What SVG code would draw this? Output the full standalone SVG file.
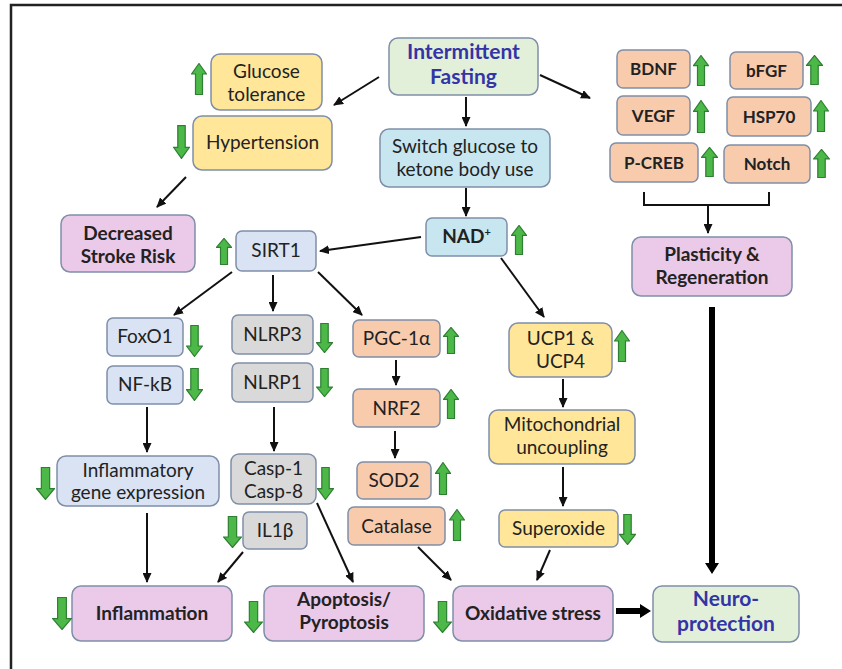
<svg xmlns="http://www.w3.org/2000/svg" xmlns:xlink="http://www.w3.org/1999/xlink" width="842" height="669" viewBox="0 0 842 669">
<style>
.box{stroke:#7F8FA8;stroke-width:1.5}
.yel{fill:#FFE699}.grn{fill:#E2F0D9}.cyan{fill:#C7E6F0}.peri{fill:#DAE3F3}
.gry{fill:#D9D9D9}.sal{fill:#F8CBAD}.pink{fill:#EBC9E9}
text{font-family:Lato,"Liberation Sans",sans-serif;font-size:19px;fill:#222;text-anchor:middle}
.b{font-weight:bold}
.blue{fill:#3434A6;font-size:21px}
.s{font-size:17px}
.c line{stroke:#111;stroke-width:2;marker-end:url(#ah)}
.ga{fill:#4CB848;stroke:#2F7F33;stroke-width:1.2}
</style>
<defs>
<marker id="ah" markerUnits="userSpaceOnUse" markerWidth="10" markerHeight="9" refX="9" refY="4.5" orient="auto">
<path d="M0,0 L10,4.5 L0,9 z" fill="#111"/>
</marker>
<symbol id="up" viewBox="0 0 16 32" preserveAspectRatio="none">
<path class="ga" vector-effect="non-scaling-stroke" d="M8,0.5 L15.5,11 L11.5,11 L11.5,31.5 L4.5,31.5 L4.5,11 L0.5,11 Z"/>
</symbol>
<symbol id="dn" viewBox="0 0 16 32" preserveAspectRatio="none">
<path class="ga" vector-effect="non-scaling-stroke" d="M8,31.5 L15.5,21 L11.5,21 L11.5,0.5 L4.5,0.5 L4.5,21 L0.5,21 Z"/>
</symbol>
</defs>
<rect width="842" height="669" fill="#fff"/>
<path d="M11,669 L11,5 L842,5" fill="none" stroke="#222" stroke-width="2.5"/>

<g id="connectors" class="c">
<line x1="379" y1="77" x2="334" y2="105"/>
<line x1="466" y1="97" x2="466" y2="126"/>
<line x1="540" y1="75" x2="590" y2="98"/>
<line x1="466" y1="188" x2="466" y2="216"/>
<line x1="186" y1="177" x2="157" y2="207"/>
<line x1="421" y1="237" x2="320" y2="251"/>
<line x1="501" y1="258" x2="544" y2="317"/>
<line x1="232" y1="272" x2="174" y2="315"/>
<line x1="273" y1="275" x2="273" y2="311"/>
<line x1="318" y1="272" x2="362" y2="315"/>
<line x1="396" y1="360" x2="396" y2="385"/>
<line x1="395" y1="431" x2="395" y2="458"/>
<line x1="147" y1="407" x2="147" y2="452"/>
<line x1="274" y1="407" x2="274" y2="451"/>
<line x1="563" y1="379" x2="563" y2="407"/>
<line x1="563" y1="467" x2="563" y2="506"/>
<line x1="147" y1="513" x2="147" y2="582"/>
<line x1="243" y1="552" x2="218" y2="582"/>
<line x1="317" y1="503" x2="353" y2="582"/>
<line x1="418" y1="547" x2="451" y2="580"/>
<line x1="550" y1="550" x2="537" y2="580"/>
<line x1="708" y1="205" x2="708" y2="233"/>
<path d="M644,192 L644,205 L769,205 L769,192" fill="none" stroke="#111" stroke-width="2"/>
<polygon points="709,307 715,307 715,563 719,563 712,574 705,563 709,563" fill="#000"/>
<polygon points="616,608 640,608 640,604 651,611 640,618 640,614 616,614" fill="#000"/>
</g>

<g id="n-if"><rect class="box grn" x="389" y="38" width="149" height="57" rx="9"/><text class="b blue" x="463.5" y="59">Intermittent</text><text class="b blue" x="463.5" y="84">Fasting</text></g>
<g id="n-glucose"><rect class="box yel" x="211" y="54" width="111" height="56" rx="9"/><text x="266.5" y="78">Glucose</text><text x="266.5" y="101">tolerance</text><use href="#up" x="191" y="63" width="16" height="32"/></g>
<g id="n-hyper"><rect class="box yel" x="193" y="116" width="139" height="54" rx="9"/><text x="262.5" y="149">Hypertension</text><use href="#dn" x="173" y="125" width="17" height="34"/></g>
<g id="n-stroke"><rect class="box pink" x="61" y="215" width="134" height="57" rx="9"/><text class="b" x="128" y="240">Decreased</text><text class="b" x="128" y="263">Stroke Risk</text></g>
<g id="n-switch"><rect class="box cyan" x="380" y="129" width="170" height="58" rx="9"/><text x="465" y="153">Switch glucose to</text><text x="465" y="176">ketone body use</text></g>
<g id="n-nad"><rect class="box cyan" x="426" y="218" width="81" height="38" rx="6"/><text class="b" x="466.5" y="243">NAD<tspan font-size="11" dy="-7">+</tspan></text><use href="#up" x="511" y="225" width="16" height="30"/></g>
<g id="n-sirt1"><rect class="box peri" x="236" y="231" width="80" height="40" rx="6"/><text x="276" y="257">SIRT1</text><use href="#up" x="216" y="238" width="16" height="27"/></g>
<g id="n-foxo1"><rect class="box peri" x="107" y="318" width="76" height="38" rx="6"/><text x="145" y="343">FoxO1</text><use href="#dn" x="186" y="325" width="17" height="32"/></g>
<g id="n-nfkb"><rect class="box peri" x="107" y="366" width="76" height="38" rx="6"/><text x="145" y="391">NF-kB</text><use href="#dn" x="186" y="368" width="17" height="33"/></g>
<g id="n-nlrp3"><rect class="box gry" x="232" y="315" width="81" height="39" rx="6"/><text x="272.5" y="341">NLRP3</text><use href="#dn" x="316" y="323" width="17" height="30"/></g>
<g id="n-nlrp1"><rect class="box gry" x="232" y="363" width="81" height="39" rx="6"/><text x="272.5" y="389">NLRP1</text><use href="#dn" x="316" y="368" width="17" height="29"/></g>
<g id="n-pgc"><rect class="box sal" x="353" y="320" width="87" height="37" rx="6"/><text x="396.5" y="345">PGC-1α</text><use href="#up" x="443" y="327" width="16" height="27"/></g>
<g id="n-nrf2"><rect class="box sal" x="353" y="389" width="87" height="38" rx="6"/><text x="396.5" y="415">NRF2</text><use href="#up" x="443" y="389" width="16" height="30"/></g>
<g id="n-sod2"><rect class="box sal" x="357" y="462" width="74" height="37" rx="6"/><text x="394" y="487">SOD2</text><use href="#up" x="435" y="462" width="16" height="33"/></g>
<g id="n-catalase"><rect class="box sal" x="348" y="507" width="97" height="38" rx="6"/><text x="396.5" y="533">Catalase</text><use href="#up" x="449" y="509" width="16" height="32"/></g>
<g id="n-ucp"><rect class="box yel" x="509" y="323" width="103" height="54" rx="9"/><text x="560.5" y="345">UCP1 &amp;</text><text x="560.5" y="368">UCP4</text><use href="#up" x="614" y="330" width="16" height="32"/></g>
<g id="n-mito"><rect class="box yel" x="489" y="410" width="146" height="54" rx="9"/><text x="562" y="431">Mitochondrial</text><text x="562" y="454">uncoupling</text></g>
<g id="n-superoxide"><rect class="box yel" x="499" y="510" width="119" height="37" rx="6"/><text x="558.5" y="535">Superoxide</text><use href="#dn" x="619" y="514" width="17" height="31"/></g>
<g id="n-inflgene"><rect class="box peri" x="57" y="456" width="162" height="50" rx="9"/><text x="138" y="477">Inflammatory</text><text x="138" y="499">gene expression</text><use href="#dn" x="36" y="467" width="19" height="33"/></g>
<g id="n-casp"><rect class="box gry" x="231" y="454" width="85" height="50" rx="8"/><text x="273.5" y="475">Casp-1</text><text x="273.5" y="498">Casp-8</text><use href="#dn" x="317" y="467" width="17" height="33"/></g>
<g id="n-il1b"><rect class="box gry" x="243" y="512" width="64" height="37" rx="6"/><text x="275" y="537">IL1β</text><use href="#dn" x="223" y="516" width="19" height="32"/></g>
<g id="n-inflammation"><rect class="box pink" x="72" y="586" width="160" height="55" rx="9"/><text class="b" x="152" y="620">Inflammation</text><use href="#dn" x="52" y="597" width="20" height="33"/></g>
<g id="n-apoptosis"><rect class="box pink" x="264" y="586" width="160" height="55" rx="9"/><text class="b" x="344" y="606">Apoptosis/</text><text class="b" x="344" y="629">Pyroptosis</text><use href="#dn" x="244" y="601" width="19" height="32"/></g>
<g id="n-oxidative"><rect class="box pink" x="453" y="586" width="160" height="55" rx="9"/><text class="b" x="533" y="620">Oxidative stress</text><use href="#dn" x="433" y="601" width="19" height="32"/></g>
<g id="n-neuro"><rect class="box grn" x="653" y="586" width="146" height="56" rx="9"/><text class="b blue" x="726" y="606">Neuro-</text><text class="b blue" x="726" y="631">protection</text></g>
<g id="n-bdnf"><rect class="box sal" x="617" y="50" width="73" height="38" rx="6"/><text class="b s" x="653.5" y="75">BDNF</text><use href="#up" x="693" y="55" width="16" height="31"/></g>
<g id="n-bfgf"><rect class="box sal" x="730" y="52" width="73" height="37" rx="6"/><text class="b s" x="766.5" y="77">bFGF</text><use href="#up" x="806" y="55" width="17" height="30"/></g>
<g id="n-vegf"><rect class="box sal" x="617" y="96" width="73" height="39" rx="6"/><text class="b s" x="653.5" y="122">VEGF</text><use href="#up" x="693" y="100" width="16" height="33"/></g>
<g id="n-hsp70"><rect class="box sal" x="727" y="97" width="84" height="39" rx="6"/><text class="b s" x="769" y="123">HSP70</text><use href="#up" x="813" y="100" width="16" height="32"/></g>
<g id="n-pcreb"><rect class="box sal" x="610" y="143" width="88" height="39" rx="6"/><text class="b s" x="654" y="169">P-CREB</text><use href="#up" x="701" y="147" width="17" height="30"/></g>
<g id="n-notch"><rect class="box sal" x="724" y="145" width="86" height="38" rx="6"/><text class="b s" x="767" y="170">Notch</text><use href="#up" x="813" y="149" width="17" height="29"/></g>
<g id="n-plasticity"><rect class="box pink" x="632" y="237" width="160" height="59" rx="9"/><text class="b" x="712" y="261">Plasticity &amp;</text><text class="b" x="712" y="284">Regeneration</text></g>
</svg>
